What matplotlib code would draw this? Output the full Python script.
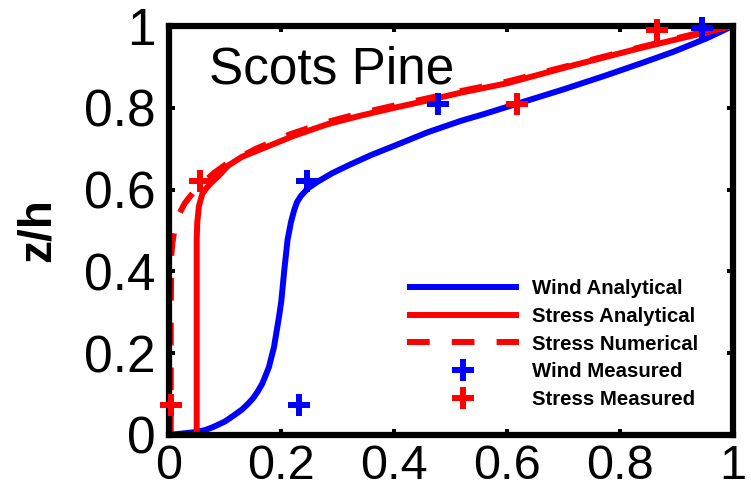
import matplotlib
matplotlib.use("Agg")
import matplotlib.pyplot as plt

plt.rcParams['font.family'] = ['Liberation Sans', 'DejaVu Sans']

# Wind analytical profile (u/u_h, z/h)
wind_an_x = [0.0, 0.047, 0.065, 0.08, 0.1, 0.117, 0.13, 0.14, 0.15, 0.158, 0.166,
             0.172, 0.178, 0.182, 0.187, 0.19, 0.196, 0.2, 0.205, 0.211, 0.217,
             0.223, 0.228, 0.235, 0.247, 0.264, 0.29, 0.32, 0.36, 0.40, 0.459,
             0.518, 0.56, 0.618, 0.70, 0.777, 0.84, 0.895, 0.954, 1.0]
wind_an_z = [0.0, 0.007, 0.012, 0.02, 0.033, 0.049, 0.062, 0.075, 0.09, 0.106, 0.125,
             0.145, 0.166, 0.188, 0.215, 0.24, 0.29, 0.328, 0.40, 0.477, 0.52,
             0.551, 0.57, 0.585, 0.603, 0.619, 0.64, 0.66, 0.685, 0.707, 0.74,
             0.768, 0.785, 0.81, 0.845, 0.88, 0.91, 0.937, 0.97, 1.0]

# Stress analytical profile
stress_an_x = [0.05, 0.05, 0.05, 0.051, 0.054, 0.06, 0.068, 0.076, 0.09, 0.105,
               0.13, 0.164, 0.223, 0.282, 0.341, 0.40, 0.459, 0.518, 0.6, 0.718,
               0.836, 0.954, 1.0]
stress_an_z = [0.0, 0.3, 0.48, 0.52, 0.56, 0.59, 0.605, 0.617, 0.635, 0.658,
               0.68, 0.699, 0.732, 0.76, 0.781, 0.80, 0.818, 0.837, 0.86, 0.904,
               0.946, 0.985, 1.0]

# Stress numerical profile
stress_num_x = [0.004, 0.004, 0.005, 0.007, 0.013, 0.029, 0.045, 0.06, 0.08, 0.1,
                0.155, 0.215, 0.275, 0.335, 0.395, 0.455, 0.515, 0.6, 0.718,
                0.836, 0.954, 1.0]
stress_num_z = [0.0, 0.3, 0.44, 0.47, 0.525, 0.567, 0.595, 0.615, 0.64, 0.66,
                0.70, 0.735, 0.763, 0.785, 0.804, 0.822, 0.84, 0.864, 0.906,
                0.948, 0.988, 1.0]

# Measurements
wind_meas_x = [0.231, 0.245, 0.478, 0.945]
wind_meas_z = [0.073, 0.62, 0.81, 0.995]
stress_meas_x = [0.005, 0.056, 0.617, 0.865]
stress_meas_z = [0.073, 0.62, 0.81, 0.99]

ticks = [0, 0.2, 0.4, 0.6, 0.8, 1]
tick_labels = ['0', '0.2', '0.4', '0.6', '0.8', '1']

fig = plt.figure(figsize=(7.51, 4.96), dpi=100)
ax = fig.add_axes([168.5 / 751, 1 - 435 / 496, (732.7 - 168.5) / 751, (435 - 26) / 496])

lw = 4.3
ax.plot(wind_an_x, wind_an_z, color='#0000ff', lw=lw, label='Wind Analytical',
        solid_capstyle='butt', solid_joinstyle='round', clip_on=False)
ax.plot(stress_an_x, stress_an_z, color='#ff0000', lw=lw, label='Stress Analytical',
        solid_capstyle='butt', solid_joinstyle='round', clip_on=False)
ax.plot(stress_num_x, stress_num_z, color='#ff0000', lw=lw, ls=(0, (3.8, 3.7)),
        label='Stress Numerical', clip_on=False)
ax.plot(wind_meas_x, wind_meas_z, ls='none', marker='+', ms=16, mew=4.3,
        color='#0000ff', label='Wind Measured', clip_on=False, zorder=5)
ax.plot(stress_meas_x, stress_meas_z, ls='none', marker='+', ms=16, mew=4.3,
        color='#ff0000', label='Stress Measured', clip_on=False, zorder=5)

ax.set_xlim(0, 1)
ax.set_ylim(0, 1)
ax.set_xticks(ticks)
ax.set_xticklabels(tick_labels)
ax.set_yticks(ticks)
ax.set_yticklabels(tick_labels)

for s in ax.spines.values():
    s.set_linewidth(4.5)
ax.tick_params(direction='in', length=4.6, width=2.9, top=True, right=True)
ax.tick_params(axis='x', pad=6.5, labelsize=35)
ax.tick_params(axis='y', pad=9, labelsize=37)

ax.set_ylabel('z/h', fontsize=33, fontweight='bold')
ax.yaxis.set_label_coords((38 - 168.5) / 564.2, 0.5)
ax.yaxis.label.set_verticalalignment('center')

ax.text(0.071, 0.859, 'Scots Pine', fontsize=37, ha='left', va='baseline',
        transform=ax.transAxes)

ax.legend(loc='upper left', bbox_to_anchor=(407 / 751, 1 - 279 / 496),
          bbox_transform=fig.transFigure, frameon=False, borderpad=0,
          borderaxespad=0, handlelength=5.5, handletextpad=0.64,
          labelspacing=0.43, numpoints=1, prop={'weight': 'bold', 'size': 14.7})

fig.savefig('out.png', dpi=100)
